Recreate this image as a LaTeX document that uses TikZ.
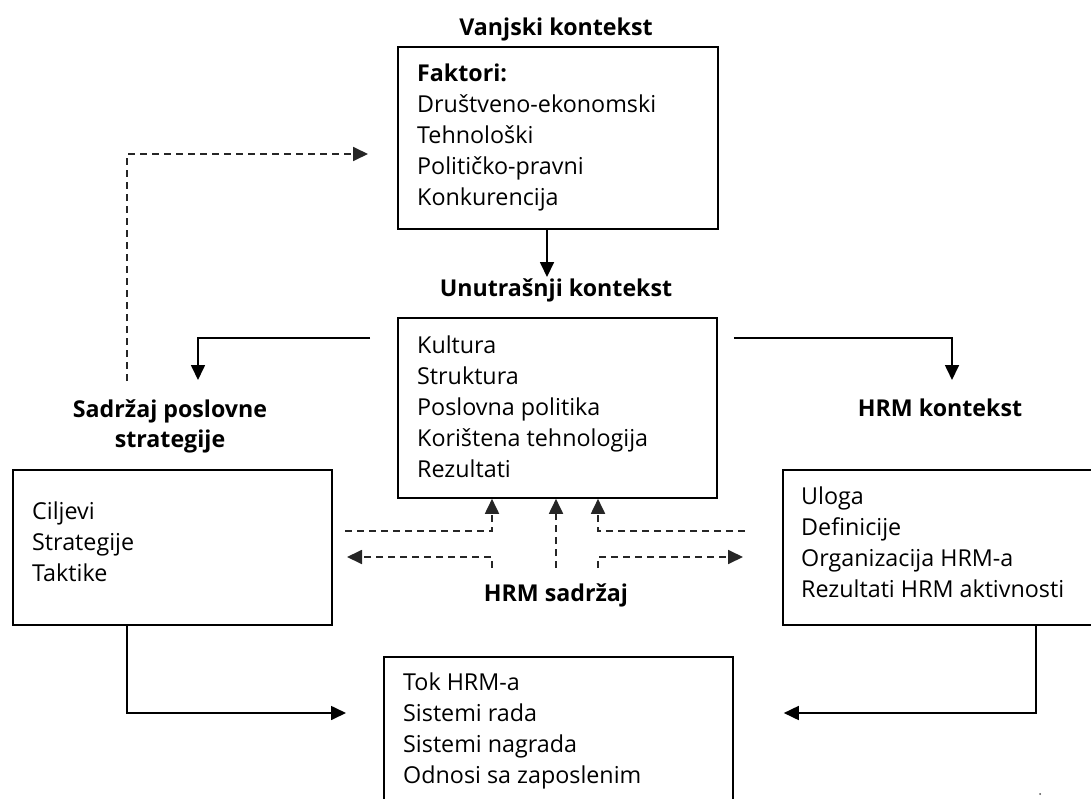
\documentclass[tikz,border=0pt]{standalone}
\usepackage{fontspec}
\setmainfont{Open Sans}
\usetikzlibrary{arrows.meta}
\newcommand\bodyfont{\fontsize{23.3}{27}\selectfont}
\newcommand\headfont{\fontsize{23.2}{27}\selectfont\bfseries}
\begin{document}
\begin{tikzpicture}[x=1pt,y=-1pt,
  frame/.style={draw, line width=1.8pt, anchor=north west, inner sep=0pt},
  head/.style={font=\headfont, anchor=base, inner sep=0pt},
  entry/.style={font=\bodyfont, anchor=base west, inner sep=0pt},
  tip/.style={-{Triangle[length=15pt,width=14pt]}},
  link/.style={line width=1.7pt, tip},
  dline/.style={line width=1.8pt, black!85, dash pattern=on 7pt off 5pt},
  dlink/.style={dline, tip}]
\useasboundingbox (0,0) rectangle (1091,799);
\clip (0,0) rectangle (1091,799);

% boxes
\node[frame, minimum width=320pt, minimum height=182pt] (ext) at (397,46) {};
\node[frame, minimum width=319pt, minimum height=180pt] (int) at (397,317) {};
\node[frame, minimum width=319pt, minimum height=155pt] (biz) at (12,469) {};
\node[frame, minimum width=330pt, minimum height=155pt] (hrm) at (782,469) {};
\node[frame, minimum width=349pt, minimum height=180pt] (out) at (383,656) {};

% headings
\node[head] (h-ext) at (556,36) {Vanjski kontekst};
\node[head] (h-int) at (556,297) {Unutrašnji kontekst};
\node[head] (h-biz1) at (170,417) {Sadržaj poslovne};
\node[head] (h-biz2) at (170,447) {strategije};
\node[head] (h-hrm) at (940,416) {HRM kontekst};
\node[head] (h-cont) at (556,601) {HRM sadržaj};

% box contents
\node[entry, font=\headfont] (ext-0) at (417,82) {Faktori:};
\foreach \t [count=\k] in {Društveno-ekonomski, Tehnološki, Političko-pravni, Konkurencija}
  \node[entry] (ext-\k) at (417,{82+31*\k}) {\t};
\foreach \t [count=\k] in {Kultura, Struktura, Poslovna politika, Korištena tehnologija, Rezultati}
  \node[entry] (int-\k) at (417,{353+31*(\k-1)}) {\t};
\foreach \t [count=\k] in {Ciljevi, Strategije, Taktike}
  \node[entry] (biz-\k) at (32,{519+31*(\k-1)}) {\t};
\foreach \t [count=\k] in {Uloga, Definicije, Organizacija HRM-a, Rezultati HRM aktivnosti}
  \node[entry] (hrm-\k) at (801,{504+31*(\k-1)}) {\t};
\foreach \t [count=\k] in {Tok HRM-a, Sistemi rada, Sistemi nagrada, Odnosi sa zaposlenim}
  \node[entry] (out-\k) at (403,{690+31*(\k-1)}) {\t};

% solid connectors
\draw[link] ([xshift=150pt]ext.south west) -- ([xshift=150pt,yshift=2pt]h-int.north west -| ext.south west);
\coordinate (biz-in) at (198,380);
\coordinate (hrm-in) at (952,380);
\draw[link] ([xshift=-27pt,yshift=-21pt]int.north west) -| (biz-in);
\draw[link] ([xshift=16pt,yshift=-21pt]int.north east) -| (hrm-in);
\draw[link] ([xshift=115pt]biz.south west) |- ([xshift=-37pt,yshift=-57pt]out.north west);
\draw[link] ([xshift=254pt]hrm.south west) |- ([xshift=50pt,yshift=-57pt]out.north east);

% dashed feedback from strategy to the external context
\coordinate (fb) at (127,381);
\draw[dlink] (fb) |- ([xshift=-29pt,yshift=-108pt]ext.north west);

% dashed links around the HRM content
\coordinate (l-up) at (345,531);
\coordinate (l-dn) at (347,557);
\coordinate (r-up) at (745,531);
\coordinate (r-dn) at (743,557);
\coordinate (c-l) at (492,568);
\coordinate (c-m) at (556,568);
\coordinate (c-r) at (598,568);
\draw[dlink] (l-up) -| ([xshift=95pt]int.south west);
\draw[dlink] (c-l) |- (l-dn);
\draw[dlink] (c-m) -- (c-m |- int.south);
\draw[dlink] (r-up) -| ([xshift=201pt]int.south west);
\draw[dlink] (c-r) |- (r-dn);

\fill[black!70] (1040,794) circle (1pt);
\end{tikzpicture}
\end{document}
